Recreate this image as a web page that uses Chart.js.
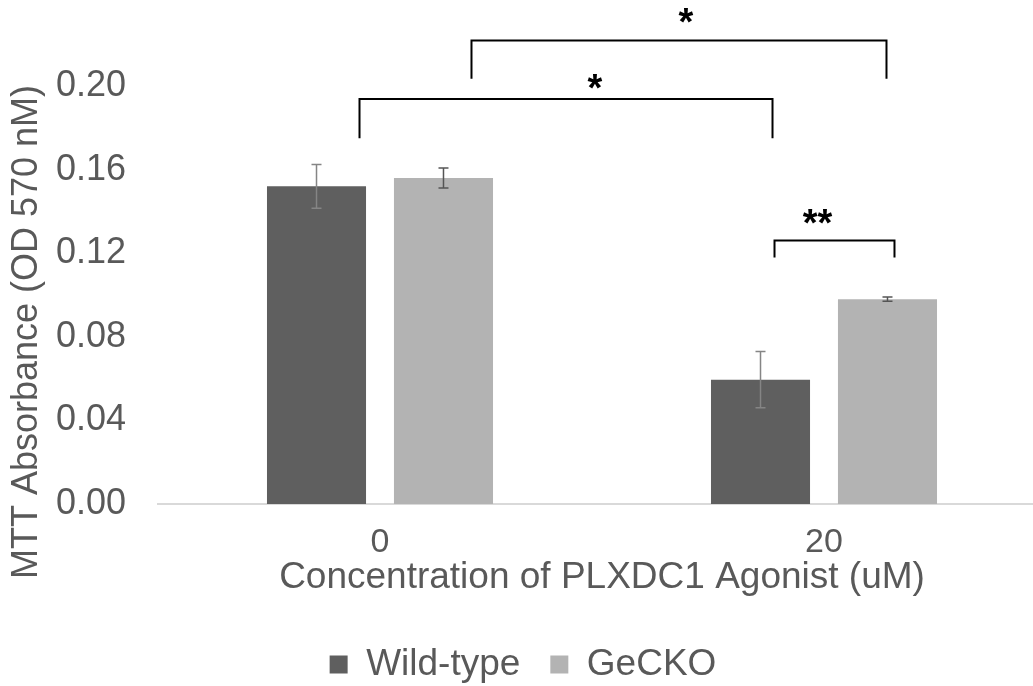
<!DOCTYPE html>
<html>
<head>
<meta charset="utf-8">
<script src="https://cdn.jsdelivr.net/npm/chart.js@4"></script>
<style>
  html, body { margin: 0; padding: 0; background: #fff; overflow: hidden; }
  #wrap { width: 1050px; height: 720px; }
</style>
</head>
<body>
<div id="wrap"><canvas id="chart" width="1050" height="720"></canvas></div>
<script>
// values
const categories = ['0', '20']
const seriesNames = ['Wild-type', 'GeCKO']
const wildType = [0.152, 0.0595]
const wildTypeErr = [0.0105, 0.0135]
const geCKO = [0.156, 0.098]
const geCKOErr = [0.0048, 0.001]
const yTicks = [0.00, 0.04, 0.08, 0.12, 0.16, 0.20]

// significance comparisons: [dataset, category] pairs
const comparisons = [
  { from: [0, 0], to: [0, 1], label: '*' },
  { from: [1, 0], to: [1, 1], label: '*' },
  { from: [0, 1], to: [1, 1], label: '**' }
]

const textColor = '#595959'
const fontFamily = '"Liberation Sans", Arial, sans-serif'

const errorBars = {
  id: 'errorBars',
  afterDatasetsDraw(chart) {
    const { ctx, scales: { y } } = chart
    const errs = [wildTypeErr, geCKOErr]
    const colors = ['#858585', '#555555']
    chart.data.datasets.forEach((ds, i) => {
      const meta = chart.getDatasetMeta(i)
      meta.data.forEach((bar, j) => {
        const v = ds.data[j]
        const e = errs[i][j]
        const top = y.getPixelForValue(v + e)
        const bot = y.getPixelForValue(v - e)
        ctx.save()
        ctx.strokeStyle = colors[i]
        ctx.lineWidth = 1.5
        ctx.beginPath()
        ctx.moveTo(bar.x, top); ctx.lineTo(bar.x, bot)
        ctx.moveTo(bar.x - 5, top); ctx.lineTo(bar.x + 5, top)
        ctx.moveTo(bar.x - 5, bot); ctx.lineTo(bar.x + 5, bot)
        ctx.stroke()
        ctx.restore()
      })
    })
  }
}

const brackets = {
  id: 'brackets',
  afterDraw(chart) {
    const { ctx, scales: { y } } = chart
    const barX = (p) => chart.getDatasetMeta(p[0]).data[p[1]].x
    // placement of each bracket (value of bar, leg end, x offsets, star shift)
    const place = [
      { top: 0.1938, leg: 0.175, dx1: 43, dx2: 12, sx: 29, sy: 19 },
      { top: 0.2218, leg: 0.2035, dx1: 28, dx2: -1, sx: 7, sy: 26 },
      { top: 0.1261, leg: 0.118, dx1: 14, dx2: 7, sx: -17, sy: 25 }
    ]
    comparisons.forEach((c, k) => {
      const p = place[k]
      const x1 = barX(c.from) + p.dx1
      const x2 = barX(c.to) + p.dx2
      const yt = y.getPixelForValue(p.top)
      const yl = y.getPixelForValue(p.leg)
      ctx.save()
      ctx.strokeStyle = '#000'
      ctx.lineWidth = 2
      ctx.beginPath()
      ctx.moveTo(x1, yl); ctx.lineTo(x1, yt); ctx.lineTo(x2, yt); ctx.lineTo(x2, yl)
      ctx.stroke()
      ctx.fillStyle = '#000'
      ctx.font = 'bold 38px ' + fontFamily
      ctx.textAlign = 'center'
      ctx.textBaseline = 'alphabetic'
      ctx.fillText(c.label, (x1 + x2) / 2 + p.sx, yt - p.sy + 21)
      ctx.restore()
    })
  }
}

const yTitle = {
  id: 'yTitle',
  afterDraw(chart) {
    const { ctx, chartArea } = chart
    ctx.save()
    ctx.translate(27, (chartArea.top + chartArea.bottom) / 2 + 37)
    ctx.rotate(-Math.PI / 2)
    ctx.fillStyle = textColor
    ctx.font = '36px ' + fontFamily
    ctx.textAlign = 'center'
    ctx.textBaseline = 'middle'
    ctx.fillText('MTT Absorbance (OD 570 nM)', 0, 0)
    ctx.restore()
  }
}

new Chart(document.getElementById('chart'), {
  type: 'bar',
  data: {
    labels: categories,
    datasets: [
      { label: seriesNames[0], data: wildType, backgroundColor: '#5f5f5f' },
      { label: seriesNames[1], data: geCKO, backgroundColor: '#b3b3b3' }
    ]
  },
  options: {
    responsive: false,
    animation: false,
    categoryPercentage: 0.572,
    barPercentage: 0.78,
    layout: { padding: { top: 86, right: 4, left: 0, bottom: 27 } },
    plugins: {
      legend: {
        position: 'bottom',
        labels: {
          boxWidth: 18, boxHeight: 18, padding: 30,
          color: textColor,
          font: { family: fontFamily, size: 37 }
        }
      },
      tooltip: { enabled: false }
    },
    scales: {
      x: {
        grid: { display: false, drawTicks: false },
        border: { display: true, color: '#d9d9d9', width: 2 },
        ticks: { color: textColor, padding: 22, font: { family: fontFamily, size: 34, lineHeight: 1 } },
        title: {
          display: true,
          text: 'Concentration of PLXDC1 Agonist (uM)',
          color: textColor,
          padding: { top: 0, bottom: 16 },
          font: { family: fontFamily, size: 37, lineHeight: 1.2 }
        },
        afterFit(scale) { scale.height = 112 }
      },
      y: {
        min: 0,
        max: 0.2,
        grid: { display: false },
        border: { display: false },
        afterBuildTicks(scale) { scale.ticks = yTicks.map(v => ({ value: v })) },
        ticks: {
          color: textColor,
          padding: 24,
          font: { family: fontFamily, size: 36 },
          callback: (v) => v.toFixed(2)
        },
        afterFit(scale) { scale.width = 158 }
      }
    }
  },
  plugins: [errorBars, brackets, yTitle]
})
</script>
</body>
</html>
